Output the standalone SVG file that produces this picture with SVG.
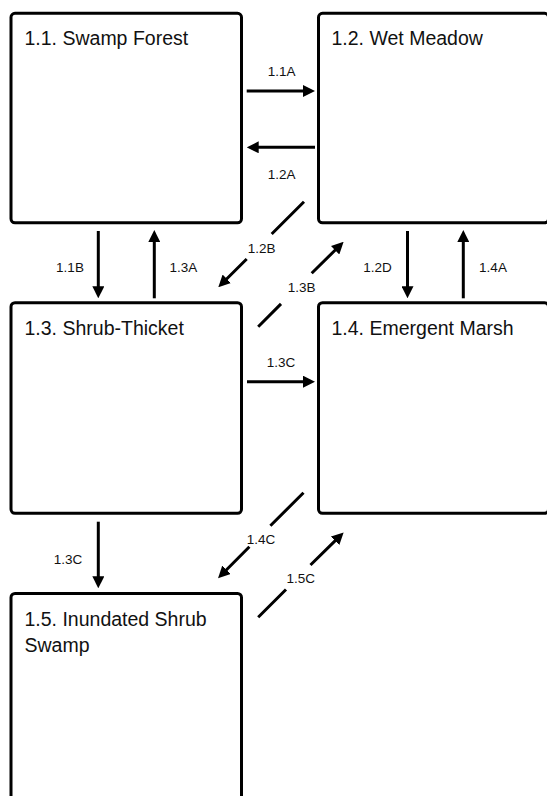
<svg xmlns="http://www.w3.org/2000/svg" width="547" height="796" viewBox="0 0 547 796">
<style>
.box{fill:#fff;stroke:#000;stroke-width:3}
.title{font-family:"Liberation Sans",Arial,sans-serif;font-size:19.5px;fill:#111}
.lbl{font-family:"Liberation Sans",Arial,sans-serif;font-size:13.5px;fill:#111;text-anchor:middle}
.conn{fill:none;stroke:#000;stroke-width:3;marker-end:url(#ah)}
</style>
<defs>
<marker id="ah" markerUnits="userSpaceOnUse" markerWidth="12" markerHeight="12" viewBox="0 0 12 12" refX="1" refY="6" orient="auto">
<path d="M0,0 L12,6 L0,12 z" fill="#000"/>
</marker>
</defs>
<rect width="547" height="796" fill="#fff"/>
<g id="n11"><rect class="box" x="11" y="13.3" width="230.5" height="209.5" rx="4"/><text class="title" x="24.5" y="45">1.1. Swamp Forest</text></g>
<g id="n12"><rect class="box" x="318.5" y="13.3" width="230" height="209.5" rx="4"/><text class="title" x="331.5" y="45">1.2. Wet Meadow</text></g>
<g id="n13"><rect class="box" x="11" y="302.7" width="230.5" height="210.6" rx="4"/><text class="title" x="24.5" y="335">1.3. Shrub-Thicket</text></g>
<g id="n14"><rect class="box" x="318.5" y="302.7" width="230" height="210.6" rx="4"/><text class="title" x="331.5" y="335">1.4. Emergent Marsh</text></g>
<g id="n15"><rect class="box" x="11" y="593.5" width="230.5" height="215" rx="4"/><text class="title" x="24.5" y="626">1.5. Inundated Shrub</text><text class="title" x="24.5" y="652">Swamp</text></g>
<g id="connectors">
<path class="conn" d="M246.7,91 L304,91"/>
<path class="conn" d="M315,147.3 L257.7,147.3"/>
<path class="conn" d="M98.3,231 L98.3,287.3"/>
<path class="conn" d="M154.3,298.3 L154.3,241"/>
<path class="conn" d="M407.5,231 L407.5,287.3"/>
<path class="conn" d="M463.3,298.3 L463.3,241"/>
<path class="conn" d="M304,201.7 L271.7,234 M246.7,259 L226.1,279.5"/>
<path class="conn" d="M258.2,326.7 L281,303.9 M311.7,273.2 L335.8,249.5"/>
<path class="conn" d="M247,381.7 L304,381.7"/>
<path class="conn" d="M98.3,521.7 L98.3,577.3"/>
<path class="conn" d="M303.5,492.7 L270.4,525.8 M249.4,546.8 L225.8,570.5"/>
<path class="conn" d="M258.2,617.3 L286,589.5 M310.5,565 L335.8,540.1"/>
<text class="lbl" x="281.7" y="76">1.1A</text>
<text class="lbl" x="281.7" y="179">1.2A</text>
<text class="lbl" x="70" y="272.3">1.1B</text>
<text class="lbl" x="183.3" y="272.3">1.3A</text>
<text class="lbl" x="377.5" y="272.3">1.2D</text>
<text class="lbl" x="493" y="272.3">1.4A</text>
<text class="lbl" x="261.7" y="252.7">1.2B</text>
<text class="lbl" x="301.7" y="292.3">1.3B</text>
<text class="lbl" x="281" y="367.3">1.3C</text>
<text class="lbl" x="68" y="564">1.3C</text>
<text class="lbl" x="261" y="543.5">1.4C</text>
<text class="lbl" x="300.7" y="583.3">1.5C</text>
</g>
</svg>
